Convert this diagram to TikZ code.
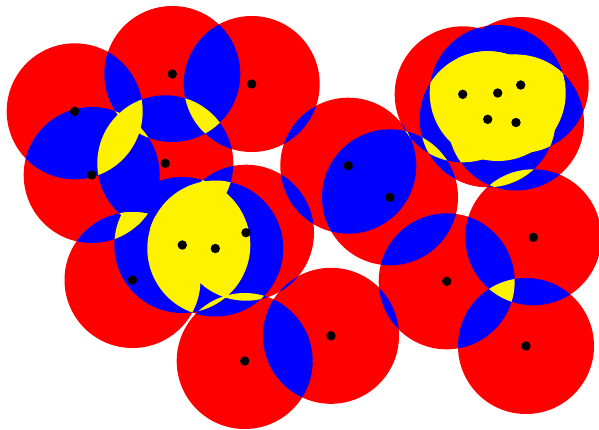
\documentclass[tikz,border=0pt]{standalone}
\usepackage{tikz}
\definecolor{cRed}{HTML}{FF0000}
\definecolor{cBlue}{HTML}{0000FF}
\definecolor{cYel}{HTML}{FFF200}
\begin{document}
\begin{tikzpicture}[x=1pt,y=-1pt]
\def\R{68pt}
\fill[white] (0,0) rectangle (599,429);
\useasboundingbox (0,0) rectangle (599,429);
\coordinate (c1) at (74.7,111.3);
\coordinate (c2) at (172.3,74);
\coordinate (c3) at (251.7,84);
\coordinate (c4) at (165.3,163.3);
\coordinate (c5) at (91.7,175);
\coordinate (c6) at (182.3,245);
\coordinate (c7) at (215.3,248.5);
\coordinate (c8) at (246,232.7);
\coordinate (c9) at (132.5,280);
\coordinate (c10) at (244.7,361);
\coordinate (c11) at (331,335.8);
\coordinate (c12) at (348.3,165.7);
\coordinate (c13) at (390,197.3);
\coordinate (c14) at (462.7,94.3);
\coordinate (c15) at (497.7,93);
\coordinate (c16) at (520.7,85);
\coordinate (c17) at (487.7,119.3);
\coordinate (c18) at (516,122.5);
\coordinate (c19) at (533.3,237.3);
\coordinate (c20) at (446.7,281.3);
\coordinate (c21) at (526,346);
% single coverage
\foreach \i in {1,...,21}{\fill[cRed] (c\i) circle[radius=\R];}
% double coverage
\foreach \i in {1,...,20}{
  \pgfmathtruncatemacro\ip{\i+1}
  \foreach \j in {\ip,...,21}{
    \begin{scope}
      \clip (c\i) circle[radius=\R];
      \fill[cBlue] (c\j) circle[radius=\R];
    \end{scope}
  }
}
% triple coverage
\foreach \i in {1,...,19}{
  \pgfmathtruncatemacro\ip{\i+1}
  \foreach \j in {\ip,...,20}{
    \pgfmathtruncatemacro\jp{\j+1}
    \foreach \k in {\jp,...,21}{
      \ifnum\numexpr\i*10000+\j*100+\k\relax=40506 \else
      \ifnum\numexpr\i*10000+\j*100+\k\relax=40609 \else
      \ifnum\numexpr\i*10000+\j*100+\k\relax=141516 \else
      \begin{scope}
        \clip (c\i) circle[radius=\R];
        \clip (c\j) circle[radius=\R];
        \fill[cYel] (c\k) circle[radius=\R];
      \end{scope}
      \fi\fi\fi
    }
  }
}
\foreach \i in {1,...,21}{\fill[black] (c\i) circle[radius=4.7pt];}
\end{tikzpicture}
\end{document}
